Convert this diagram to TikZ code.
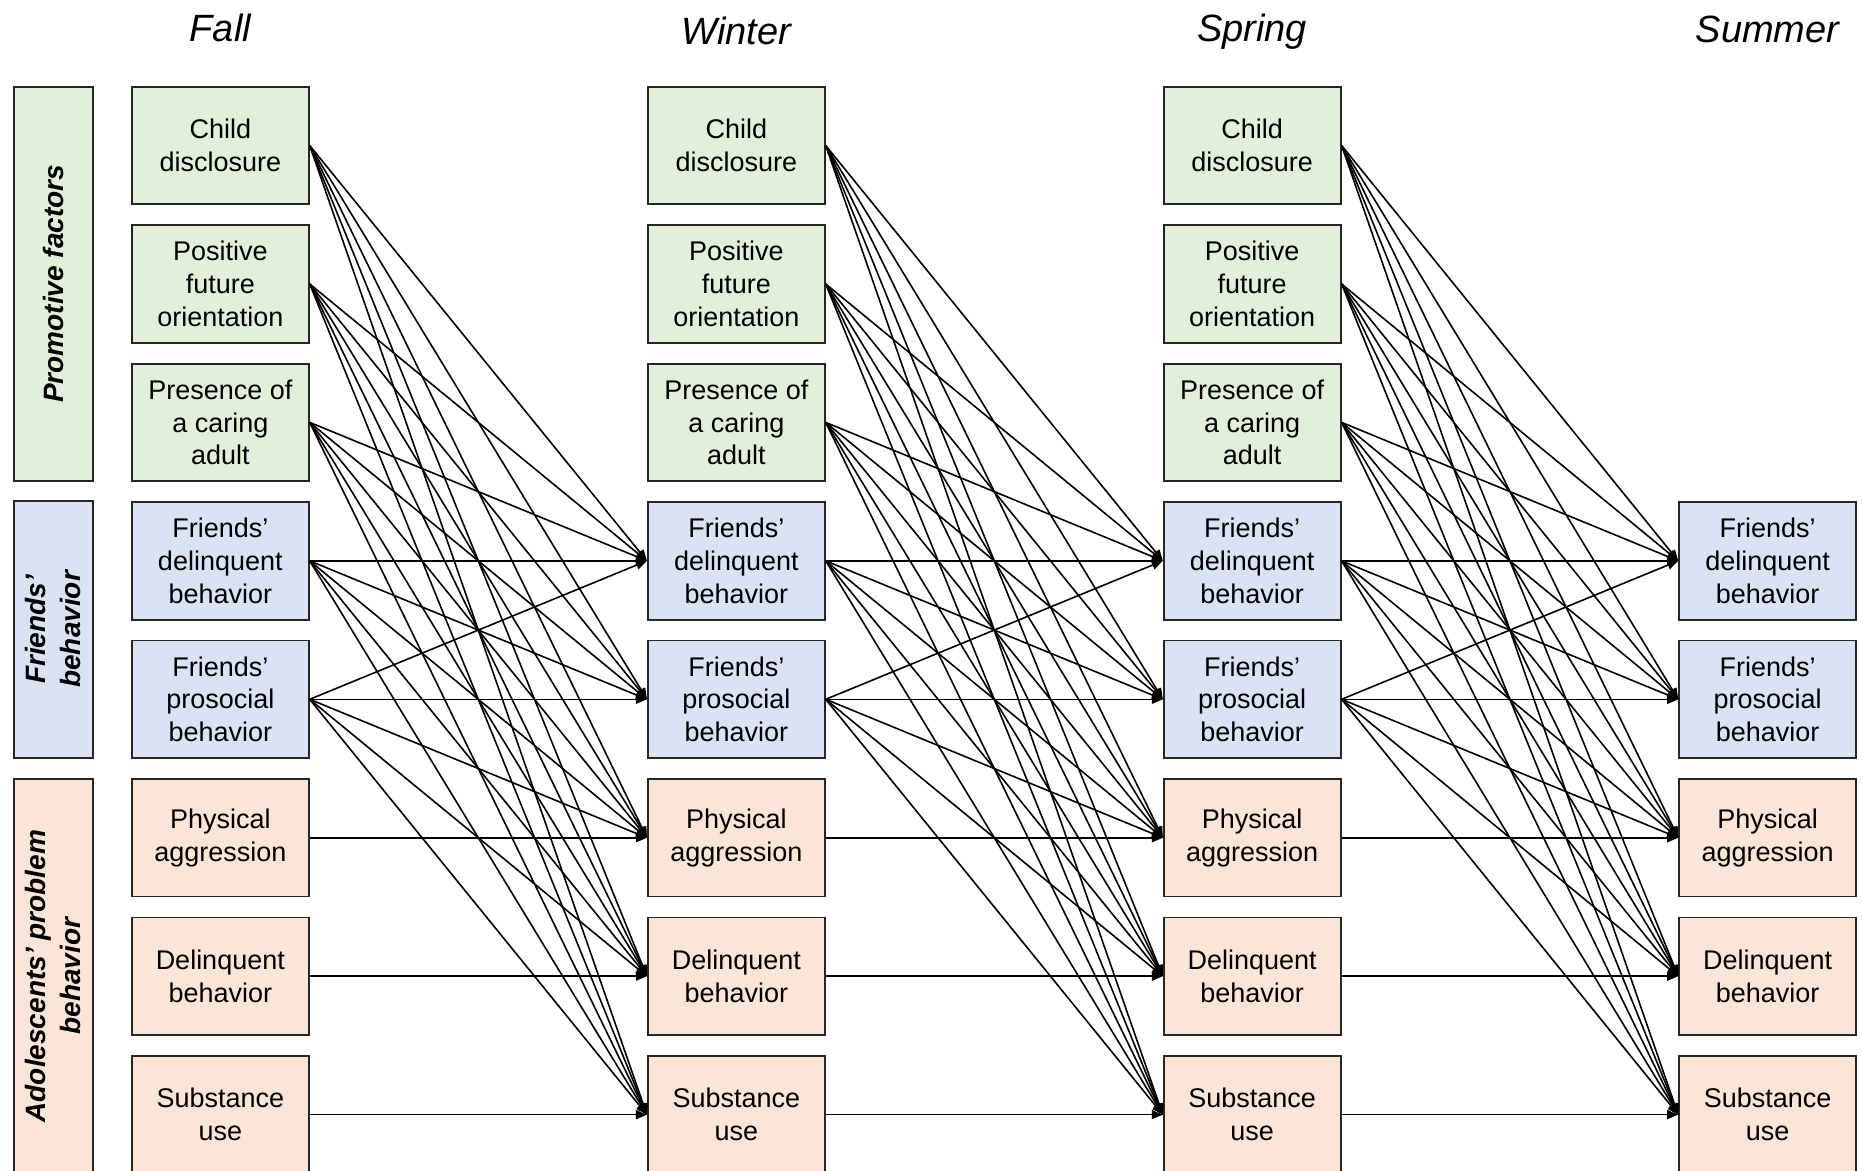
\documentclass[tikz,border=0pt]{standalone}
\usepackage{fontspec}
\setmainfont{Liberation Sans}
\usetikzlibrary{arrows.meta}
\definecolor{pgreen}{HTML}{E2F0D9}
\definecolor{pblue}{HTML}{DAE3F3}
\definecolor{porange}{HTML}{FBE5D6}
\definecolor{bord}{HTML}{262626}
\begin{document}
\begin{tikzpicture}[x=1pt,y=-1pt,
  cellbox/.style={draw=bord, line width=1.8pt, minimum width=177pt, minimum height=117.6pt,
    align=center, inner sep=0pt, font=\fontsize{27}{32.7}\selectfont},
  gbox/.style={cellbox, fill=pgreen},
  bbox/.style={cellbox, fill=pblue},
  obox/.style={cellbox, fill=porange},
  catbox/.style={draw=bord, line width=1.8pt, minimum height=78.4pt, rotate=90,
    align=center, inner sep=0pt, font=\fontsize{28}{35}\selectfont\bfseries\itshape},
  season/.style={font=\fontsize{38}{44}\selectfont\itshape, inner sep=0pt, anchor=base},
  arr/.style={line width=1.6pt, -{Triangle[length=11pt,width=9pt]}}
]
\useasboundingbox (0,0) rectangle (1862,1170);

% category boxes
\node[catbox, fill=pgreen, minimum width=394.3pt] (catA) at (53.4,283.8) {Promotive factors};
\node[catbox, fill=pblue, minimum width=256.6pt] (catB) at (53.4,629.4) {Friends’\\behavior};
\node[catbox, fill=porange, minimum width=394.3pt] (catC) at (53.4,976.1) {Adolescents’ problem\\behavior};

% season titles
\node[season] (t1) at (220.3,41.5) {Fall};
\node[season] (t2) at (736.3,44) {Winter};
\node[season] (t3) at (1252.2,41) {Spring};
\node[season] (t4) at (1767.6,42) {Summer};

% columns
\foreach \i/\x in {1/220.3,2/736.3,3/1252.2} {
  \node[gbox] (c\i r1) at (\x,145.5) {Child\\disclosure};
  \node[gbox] (c\i r2) at (\x,283.95) {Positive\\future\\orientation};
  \node[gbox] (c\i r3) at (\x,422.4) {Presence of\\a caring\\adult};
}
\foreach \i/\x in {1/220.3,2/736.3,3/1252.2,4/1767.6} {
  \node[bbox] (c\i r4) at (\x,560.85) {Friends’\\delinquent\\behavior};
  \node[bbox] (c\i r5) at (\x,699.3) {Friends’\\prosocial\\behavior};
  \node[obox] (c\i r6) at (\x,837.75) {Physical\\aggression};
  \node[obox] (c\i r7) at (\x,976.2) {Delinquent\\behavior};
  \node[obox] (c\i r8) at (\x,1114.65) {Substance\\use};
}

% connectors
\foreach \i/\j in {1/2,2/3,3/4} {
  \foreach \s in {1,...,5} {
    \foreach \t in {4,...,8} {
      \draw[arr] (c\i r\s.east) -- (c\j r\t.west);
    }
  }
  \foreach \s in {6,7,8} {
    \draw[arr] (c\i r\s.east) -- (c\j r\s.west);
  }
}
\end{tikzpicture}
\end{document}
